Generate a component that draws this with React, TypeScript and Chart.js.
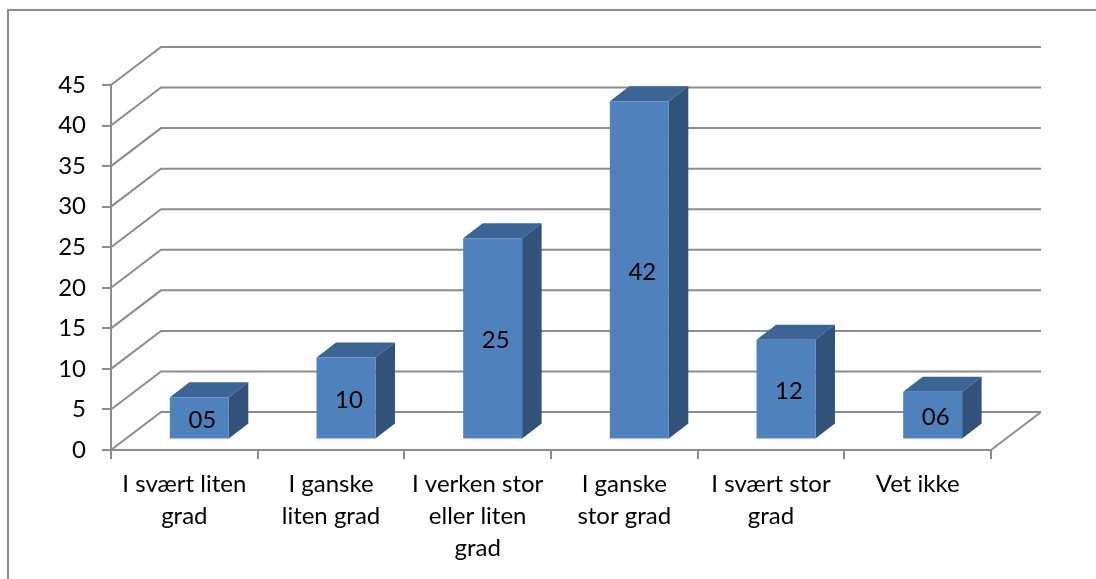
import React, { useEffect, useRef } from "react";
import { Chart, registerables } from "chart.js";

Chart.register(...registerables);

const categories: string[][] = [
  ["I svært liten", "grad"],
  ["I ganske", "liten grad"],
  ["I verken stor", "eller liten", "grad"],
  ["I ganske", "stor grad"],
  ["I svært stor", "grad"],
  ["Vet ikke"],
];
const values = [5.2, 10.1, 24.8, 41.7, 12.3, 5.9];
const valueLabels = ["05", "10", "25", "42", "12", "06"];

const GREY = "#8c8c8c";
const FONT = "Lato";
const FONT_SIZE = 24;
const FRONT = "#4f81bd";
const TOP = "#3c6494";
const SIDE = "#325279";
const WALL_DX = 50;
const WALL_DY = -38;
const GAP_DX = 15;
const GAP_DY = -10.5;
const BAR_DX = 19.5;
const BAR_DY = -15;

const frame3d = {
  id: "frame3d",
  beforeDraw(chart: any) {
    const { ctx } = chart;
    ctx.save();
    ctx.fillStyle = "#ffffff";
    ctx.fillRect(0, 0, chart.width, chart.height);
    ctx.strokeStyle = GREY;
    ctx.lineWidth = 2;
    ctx.strokeRect(8, 10, chart.width + 100, chart.height + 100);
    ctx.restore();
  },
  beforeDatasetsDraw(chart: any) {
    const { ctx, chartArea, scales } = chart;
    const y = scales.y;
    ctx.save();
    ctx.strokeStyle = GREY;
    ctx.lineWidth = 2;
    y.ticks.forEach((t: any) => {
      const py = y.getPixelForValue(t.value);
      ctx.beginPath();
      ctx.moveTo(chartArea.left, py);
      ctx.lineTo(chartArea.left + WALL_DX, py + WALL_DY);
      ctx.lineTo(chartArea.right + WALL_DX, py + WALL_DY);
      ctx.stroke();
    });
    const base = y.getPixelForValue(0);
    ctx.beginPath();
    ctx.moveTo(chartArea.right, base);
    ctx.lineTo(chartArea.right + WALL_DX, base + WALL_DY);
    ctx.stroke();
    ctx.restore();
  },
  beforeDatasetDraw(chart: any, args: any) {
    const { ctx } = chart;
    ctx.save();
    ctx.translate(GAP_DX, GAP_DY);
    args.meta.data.forEach((bar: any) => {
      const p = bar.getProps(["x", "y", "base", "width"], true);
      const l = p.x - p.width / 2;
      const r = p.x + p.width / 2;
      ctx.fillStyle = TOP;
      ctx.beginPath();
      ctx.moveTo(l, p.y);
      ctx.lineTo(l + BAR_DX, p.y + BAR_DY);
      ctx.lineTo(r + BAR_DX, p.y + BAR_DY);
      ctx.lineTo(r, p.y);
      ctx.closePath();
      ctx.fill();
      ctx.fillStyle = SIDE;
      ctx.beginPath();
      ctx.moveTo(r, p.y);
      ctx.lineTo(r + BAR_DX, p.y + BAR_DY);
      ctx.lineTo(r + BAR_DX, p.base + BAR_DY);
      ctx.lineTo(r, p.base);
      ctx.closePath();
      ctx.fill();
    });
  },
  afterDatasetDraw(chart: any) {
    chart.ctx.restore();
  },
  afterDatasetsDraw(chart: any) {
    const { ctx } = chart;
    const meta = chart.getDatasetMeta(0);
    ctx.save();
    ctx.fillStyle = "#000000";
    ctx.font = `${FONT_SIZE}px ${FONT}`;
    ctx.textAlign = "center";
    ctx.textBaseline = "middle";
    meta.data.forEach((bar: any, i: number) => {
      const p = bar.getProps(["x", "y", "base"], true);
      ctx.fillText(valueLabels[i], p.x + GAP_DX + 3, (p.y + p.base) / 2 + GAP_DY + 2);
    });
    ctx.restore();
  },
};

export default function App() {
  const ref = useRef<HTMLCanvasElement>(null);
  useEffect(() => {
    document.body.style.margin = "0";
    const chart = new Chart(ref.current!, {
      type: "bar",
      data: {
        labels: categories,
        datasets: [
          {
            data: values,
            backgroundColor: FRONT,
            borderWidth: 0,
            barPercentage: 0.402,
            categoryPercentage: 1,
            clip: false,
          } as any,
        ],
      },
      plugins: [frame3d],
      options: {
        responsive: false,
        animation: false,
        layout: { padding: { top: 85, right: 105, left: 0, bottom: 0 } },
        plugins: { legend: { display: false }, tooltip: { enabled: false }, title: { display: false } },
        scales: {
          x: {
            offset: true,
            afterFit: (s: any) => {
              s.height = 129;
            },
            border: { color: GREY, width: 2 },
            grid: { drawOnChartArea: false, color: GREY, lineWidth: 2, tickLength: 9, offset: true },
            ticks: {
              color: "#000000",
              font: { family: FONT, size: FONT_SIZE, lineHeight: 32 / FONT_SIZE },
              padding: 9,
              maxRotation: 0,
              autoSkip: false,
            },
          },
          y: {
            min: 0,
            max: 45,
            afterFit: (s: any) => {
              s.width = 111;
            },
            border: { color: GREY, width: 2 },
            grid: { drawOnChartArea: false, color: GREY, lineWidth: 2, tickLength: 9 },
            ticks: {
              stepSize: 5,
              color: "#000000",
              font: { family: FONT, size: FONT_SIZE },
              padding: 16,
            },
          },
        },
      },
    } as any);
    return () => chart.destroy();
  }, []);
  return (
    <div style={{ position: "absolute", left: 0, top: 0, width: 1096, height: 579, overflow: "hidden" }}>
      <canvas ref={ref} width={1096} height={579} style={{ display: "block" }} />
    </div>
  );
}
